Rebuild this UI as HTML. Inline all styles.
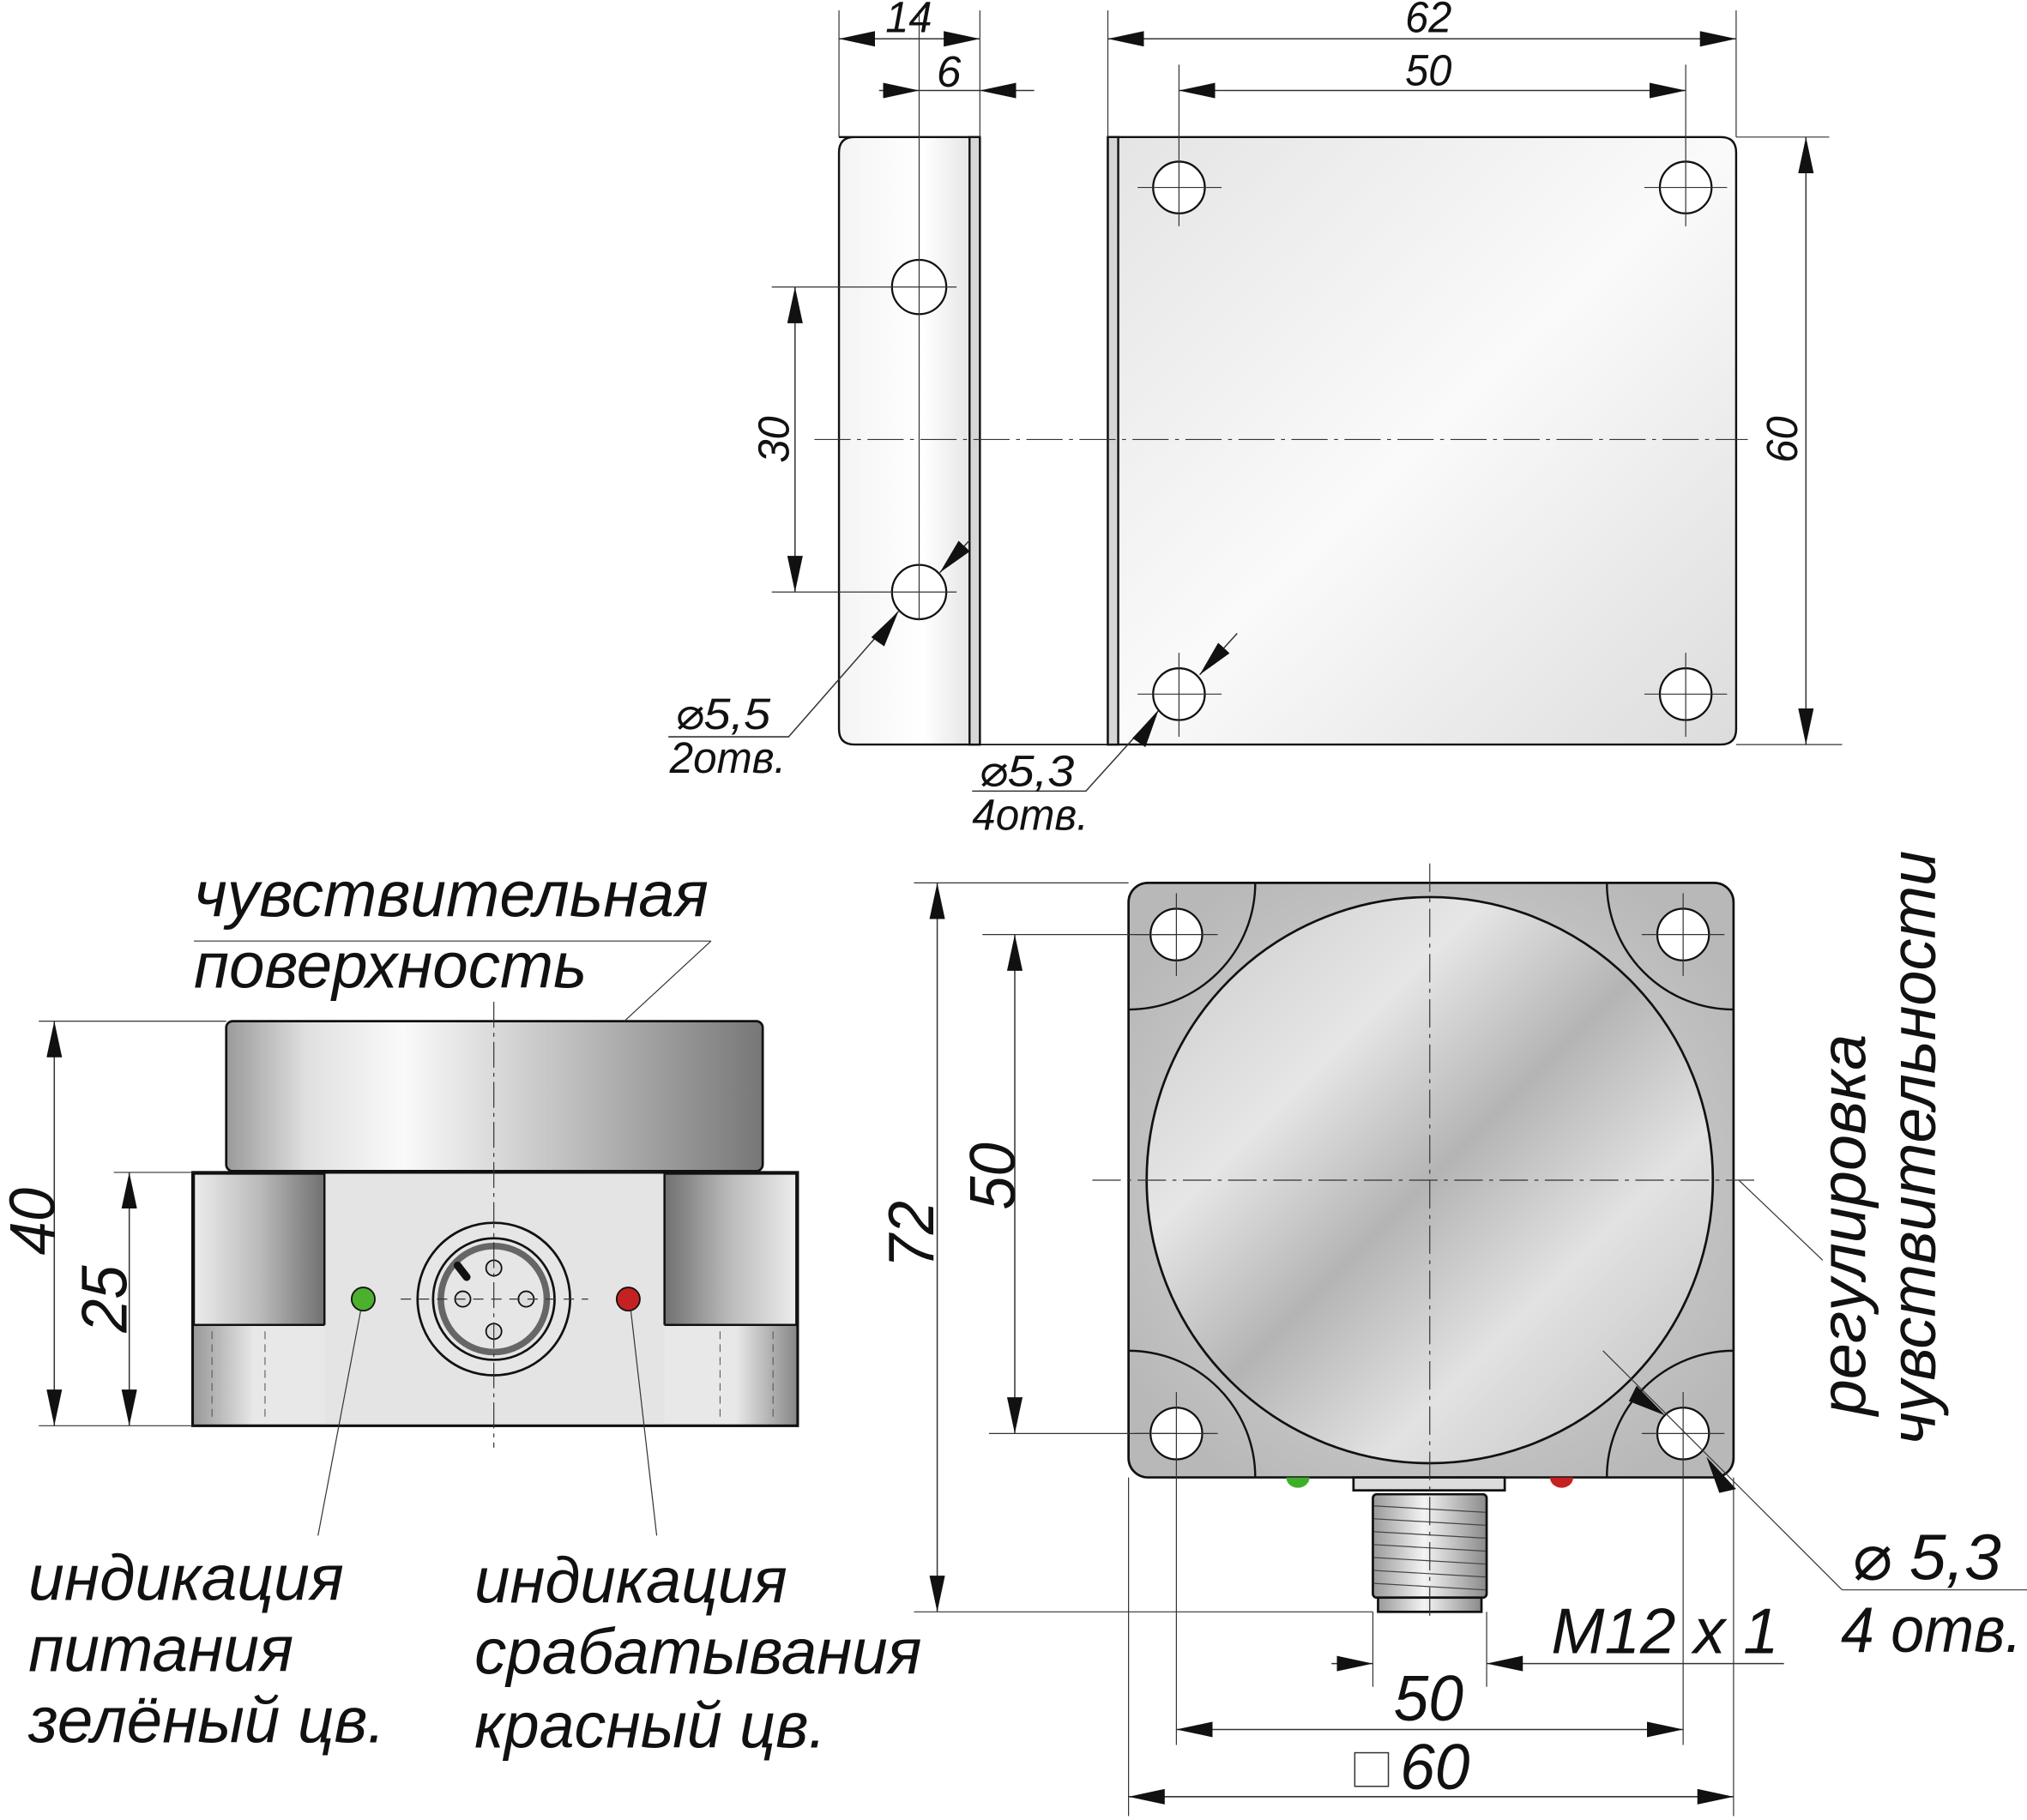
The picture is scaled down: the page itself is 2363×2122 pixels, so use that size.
<!DOCTYPE html>
<html><head><meta charset="utf-8">
<style>html,body{margin:0;padding:0;background:#fff}svg{display:block}
text{font-family:"Liberation Sans","DejaVu Sans",sans-serif;font-style:italic;fill:#111}</style></head>
<body>
<svg width="2363" height="2122" viewBox="0 0 1568 1408" xmlns="http://www.w3.org/2000/svg">
<defs>
<marker id="a" viewBox="0 0 28 12" refX="28" refY="6" markerWidth="28" markerHeight="12" markerUnits="userSpaceOnUse" orient="auto-start-reverse"><path d="M0,0L28,6L0,12z" fill="#111"/></marker>
<linearGradient id="pl" x1="0" y1="0" x2="1" y2="1"><stop offset="0" stop-color="#e4e4e4"/><stop offset=".5" stop-color="#fafafa"/><stop offset="1" stop-color="#dcdcdc"/></linearGradient>
<linearGradient id="br" x1="0" x2="1"><stop offset="0" stop-color="#f4f4f4"/><stop offset=".6" stop-color="#fff"/><stop offset="1" stop-color="#e0e0e0"/></linearGradient>
<linearGradient id="cy" x1="0" x2="1"><stop offset="0" stop-color="#9a9a9a"/><stop offset=".15" stop-color="#e0e0e0"/><stop offset=".33" stop-color="#fafafa"/><stop offset=".65" stop-color="#bdbdbd"/><stop offset="1" stop-color="#777"/></linearGradient>
<linearGradient id="nl" x1="0" x2="1"><stop offset="0" stop-color="#ececec"/><stop offset=".5" stop-color="#bbb"/><stop offset="1" stop-color="#707070"/></linearGradient>
<linearGradient id="nr" x1="0" x2="1"><stop offset="0" stop-color="#707070"/><stop offset=".5" stop-color="#bbb"/><stop offset="1" stop-color="#ececec"/></linearGradient>
<linearGradient id="lb" x1="0" x2="1"><stop offset="0" stop-color="#999"/><stop offset=".1" stop-color="#e8e8e8"/><stop offset=".9" stop-color="#e8e8e8"/><stop offset="1" stop-color="#888"/></linearGradient>
<linearGradient id="th" x1="0" x2="1"><stop offset="0" stop-color="#999"/><stop offset=".45" stop-color="#f4f4f4"/><stop offset="1" stop-color="#8a8a8a"/></linearGradient>
<radialGradient id="dk" cx=".5" cy=".5" r=".6"><stop offset="0" stop-color="#dadada"/><stop offset=".6" stop-color="#c8c8c8"/><stop offset="1" stop-color="#b8b8b8"/></radialGradient>
<linearGradient id="dk2" x1="0" y1="0" x2="1" y2="1"><stop offset="0" stop-color="#c8c8c8"/><stop offset=".3" stop-color="#e6e6e6"/><stop offset=".5" stop-color="#b4b4b4"/><stop offset=".7" stop-color="#e2e2e2"/><stop offset="1" stop-color="#bcbcbc"/></linearGradient>
</defs>

<!-- ===== TOP VIEW ===== -->
<path d="M649,106H758V576H661Q649,576 649,564V118Q649,106 661,106Z" fill="url(#br)" stroke="#111" stroke-width="1.6"/>
<rect x="750" y="106" width="8" height="470" fill="#d6d6d6" stroke="#111" stroke-width="1.6"/>
<line x1="758" y1="576" x2="857" y2="576" stroke="#111" stroke-width="1.2"/>
<path d="M857,106H1331Q1343,106 1343,118V564Q1343,576 1331,576H857Z" fill="url(#pl)" stroke="#111" stroke-width="1.6"/>
<rect x="857" y="106" width="8" height="470" fill="#d6d6d6" stroke="#111" stroke-width="1.6"/>
<g fill="#fff" stroke="#111" stroke-width="1.5">
<circle cx="711" cy="222" r="21"/><circle cx="711" cy="458" r="21"/>
<circle cx="912" cy="145" r="20"/><circle cx="1304" cy="145" r="20"/>
<circle cx="912" cy="537" r="20"/><circle cx="1304" cy="537" r="20"/>
</g>
<g stroke="#333" stroke-width="0.8" fill="none">
<line x1="711" y1="8" x2="711" y2="480"/>
<line x1="597" y1="222" x2="740" y2="222"/><line x1="597" y1="458" x2="740" y2="458"/>
<line x1="912" y1="50" x2="912" y2="175"/><line x1="1304" y1="50" x2="1304" y2="175"/>
<line x1="880" y1="145" x2="945" y2="145"/><line x1="1272" y1="145" x2="1336" y2="145"/>
<line x1="912" y1="505" x2="912" y2="570"/><line x1="1304" y1="505" x2="1304" y2="570"/>
<line x1="880" y1="537" x2="945" y2="537"/><line x1="1272" y1="537" x2="1336" y2="537"/>
<line x1="630" y1="340" x2="1352" y2="340" stroke-dasharray="28 5 3 5"/>
<line x1="649" y1="8" x2="649" y2="106"/><line x1="758" y1="8" x2="758" y2="106"/>
<line x1="857" y1="8" x2="857" y2="106"/><line x1="1343" y1="8" x2="1343" y2="106"/>
<line x1="1343" y1="106" x2="1415" y2="106"/><line x1="1343" y1="576" x2="1425" y2="576"/>
</g>
<g stroke="#333" stroke-width="1" fill="none">
<line x1="649" y1="30" x2="758" y2="30" marker-start="url(#a)" marker-end="url(#a)"/>
<line x1="680" y1="70" x2="711" y2="70" marker-end="url(#a)"/>
<line x1="800" y1="70" x2="758" y2="70" marker-end="url(#a)"/>
<line x1="711" y1="70" x2="758" y2="70"/>
<line x1="857" y1="30" x2="1343" y2="30" marker-start="url(#a)" marker-end="url(#a)"/>
<line x1="912" y1="70" x2="1304" y2="70" marker-start="url(#a)" marker-end="url(#a)"/>
<line x1="1397" y1="106" x2="1397" y2="576" marker-start="url(#a)" marker-end="url(#a)"/>
<line x1="615" y1="222" x2="615" y2="458" marker-start="url(#a)" marker-end="url(#a)"/>
<polyline points="517,570 610,570 695,473"/>
<line x1="727" y1="443" x2="750" y2="418" marker-start="url(#a)"/>
<polyline points="752,612 840,612 896,550"/>
<line x1="928" y1="522" x2="957" y2="490" marker-start="url(#a)"/>
</g>
<path d="M674,493L695,473L684,500z" fill="#111"/>
<path d="M876,571L896,550L886,578z" fill="#111"/>
<g font-size="34">
<text x="703" y="25" text-anchor="middle" textLength="36" lengthAdjust="spacingAndGlyphs">14</text>
<text x="734" y="67" text-anchor="middle">6</text>
<text x="1105" y="25" text-anchor="middle" textLength="36" lengthAdjust="spacingAndGlyphs">62</text>
<text x="1105" y="66" text-anchor="middle" textLength="36" lengthAdjust="spacingAndGlyphs">50</text>
<text transform="translate(1390,340) rotate(-90)" text-anchor="middle" textLength="36" lengthAdjust="spacingAndGlyphs">60</text>
<text transform="translate(610,340) rotate(-90)" text-anchor="middle" textLength="36" lengthAdjust="spacingAndGlyphs">30</text>
<text x="522" y="564" textLength="74" lengthAdjust="spacingAndGlyphs">⌀5,5</text>
<text x="518" y="598" textLength="90" lengthAdjust="spacingAndGlyphs">2отв.</text>
<text x="757" y="608" textLength="74" lengthAdjust="spacingAndGlyphs">⌀5,3</text>
<text x="752" y="642" textLength="90" lengthAdjust="spacingAndGlyphs">4отв.</text>
</g>

<!-- ===== SIDE VIEW ===== -->
<rect x="175" y="790" width="415" height="116" rx="5" fill="url(#cy)" stroke="#111" stroke-width="1.8"/>
<rect x="149" y="907" width="468" height="196" fill="#e6e6e6" stroke="#111" stroke-width="2"/>
<rect x="150" y="1025" width="466" height="77" fill="url(#lb)"/>
<rect x="150" y="908" width="101" height="117" fill="url(#nl)" stroke="#111" stroke-width="1.6"/>
<rect x="514" y="908" width="102" height="117" fill="url(#nr)" stroke="#111" stroke-width="1.6"/>
<rect x="251" y="908" width="263" height="194" fill="#e4e4e4"/>
<rect x="149" y="907" width="468" height="196" fill="none" stroke="#111" stroke-width="2"/>
<line x1="149" y1="1025" x2="251" y2="1025" stroke="#111" stroke-width="1.6"/>
<line x1="514" y1="1025" x2="617" y2="1025" stroke="#111" stroke-width="1.6"/>
<line x1="251" y1="907" x2="251" y2="1025" stroke="#111" stroke-width="1.6"/>
<line x1="514" y1="907" x2="514" y2="1025" stroke="#111" stroke-width="1.6"/>
<g stroke="#555" stroke-width="0.7" stroke-dasharray="6 4"><line x1="164" y1="1030" x2="164" y2="1100"/><line x1="205" y1="1030" x2="205" y2="1100"/><line x1="557" y1="1030" x2="557" y2="1100"/><line x1="598" y1="1030" x2="598" y2="1100"/></g>
<circle cx="382" cy="1005" r="59" fill="#e6e6e6" stroke="#111" stroke-width="1.8"/>
<circle cx="382" cy="1005" r="47" fill="none" stroke="#111" stroke-width="1.8"/>
<circle cx="382" cy="1005" r="41" fill="none" stroke="#666" stroke-width="5"/>
<line x1="354" y1="979" x2="361" y2="988" stroke="#111" stroke-width="6" stroke-linecap="round"/>
<g fill="#ddd" stroke="#111" stroke-width="1.2"><circle cx="382" cy="981" r="6"/><circle cx="382" cy="1030" r="6"/><circle cx="358" cy="1005" r="6"/><circle cx="407" cy="1005" r="6"/></g>
<circle cx="281" cy="1005" r="9" fill="#4caf2e" stroke="#111" stroke-width="1.2"/>
<circle cx="486" cy="1005" r="9" fill="#c42222" stroke="#111" stroke-width="1.2"/>
<g stroke="#333" stroke-width="0.8" fill="none">
<line x1="382" y1="775" x2="382" y2="1120" stroke-dasharray="20 4 3 4"/>
<line x1="310" y1="1005" x2="455" y2="1005" stroke-dasharray="8 6"/>
<line x1="30" y1="790" x2="175" y2="790"/><line x1="30" y1="1103" x2="149" y2="1103"/>
<line x1="88" y1="907" x2="149" y2="907"/>
<line x1="150" y1="728" x2="550" y2="728"/><line x1="550" y1="728" x2="483" y2="790"/>
<line x1="279" y1="1014" x2="246" y2="1188"/><line x1="488" y1="1014" x2="508" y2="1188"/>
</g>
<g stroke="#333" stroke-width="1" fill="none">
<line x1="42" y1="790" x2="42" y2="1103" marker-start="url(#a)" marker-end="url(#a)"/>
<line x1="100" y1="907" x2="100" y2="1103" marker-start="url(#a)" marker-end="url(#a)"/>
</g>
<g font-size="50">
<text transform="translate(42,945) rotate(-90)" text-anchor="middle" textLength="52" lengthAdjust="spacingAndGlyphs">40</text>
<text transform="translate(98,1005) rotate(-90)" text-anchor="middle" textLength="52" lengthAdjust="spacingAndGlyphs">25</text>
<text x="150" y="709" textLength="398" lengthAdjust="spacingAndGlyphs">чувствительная</text>
<text x="150" y="764" textLength="304" lengthAdjust="spacingAndGlyphs">поверхность</text>
<text x="22" y="1238" textLength="244" lengthAdjust="spacingAndGlyphs">индикация</text>
<text x="22" y="1293" textLength="205" lengthAdjust="spacingAndGlyphs">питания</text>
<text x="22" y="1348" textLength="276" lengthAdjust="spacingAndGlyphs">зелёный цв.</text>
<text x="367" y="1240" textLength="242" lengthAdjust="spacingAndGlyphs">индикация</text>
<text x="367" y="1295" textLength="346" lengthAdjust="spacingAndGlyphs">срабатывания</text>
<text x="367" y="1352" textLength="272" lengthAdjust="spacingAndGlyphs">красный цв.</text>
</g>

<!-- ===== FRONT VIEW ===== -->
<rect x="873" y="683" width="468" height="460" rx="15" fill="url(#dk)" stroke="#111" stroke-width="1.8"/>
<g fill="none" stroke="#111" stroke-width="1.6">
<path d="M873,781A98,98 0 0 0 971,683"/>
<path d="M1243,683A98,98 0 0 0 1341,781"/>
<path d="M873,1045A98,98 0 0 1 971,1143"/>
<path d="M1243,1143A98,98 0 0 1 1341,1045"/>
</g>
<circle cx="1106" cy="913" r="219" fill="url(#dk2)" stroke="#111" stroke-width="1.8"/>
<g fill="#fff" stroke="#111" stroke-width="1.5">
<circle cx="910" cy="723" r="20"/><circle cx="1302" cy="723" r="20"/>
<circle cx="910" cy="1109" r="20"/><circle cx="1302" cy="1109" r="20"/>
</g>
<path d="M995,1143a9,8 0 0 0 18,0z" fill="#3fae2a"/>
<path d="M1199,1143a9,8 0 0 0 18,0z" fill="#c42222"/>
<rect x="1047" y="1143" width="117" height="10" fill="#ddd" stroke="#111" stroke-width="1.8"/>
<rect x="1062" y="1156" width="88" height="80" rx="3" fill="url(#th)" stroke="#111" stroke-width="1.8"/>
<g stroke="#444" stroke-width="0.8"><line x1="1063" y1="1165" x2="1149" y2="1170"/><line x1="1063" y1="1175" x2="1149" y2="1180"/><line x1="1063" y1="1185" x2="1149" y2="1190"/><line x1="1063" y1="1195" x2="1149" y2="1200"/><line x1="1063" y1="1205" x2="1149" y2="1210"/><line x1="1063" y1="1215" x2="1149" y2="1220"/><line x1="1063" y1="1225" x2="1149" y2="1230"/></g>
<rect x="1066" y="1236" width="80" height="11" fill="url(#th)" stroke="#111" stroke-width="1.8"/>
<g stroke="#333" stroke-width="0.8" fill="none">
<line x1="1106" y1="668" x2="1106" y2="1250" stroke-dasharray="22 5 3 5"/>
<line x1="845" y1="913" x2="1362" y2="913" stroke-dasharray="22 5 3 5"/>
<line x1="878" y1="723" x2="942" y2="723"/><line x1="1270" y1="723" x2="1334" y2="723"/>
<line x1="910" y1="691" x2="910" y2="755"/><line x1="1302" y1="691" x2="1302" y2="755"/>
<line x1="878" y1="1109" x2="942" y2="1109"/><line x1="1270" y1="1109" x2="1334" y2="1109"/>
<line x1="910" y1="1077" x2="910" y2="1350"/><line x1="1302" y1="1077" x2="1302" y2="1350"/>
<line x1="873" y1="1143" x2="873" y2="1405"/><line x1="1341" y1="1143" x2="1341" y2="1405"/>
<line x1="1062" y1="1247" x2="1062" y2="1305"/><line x1="1150" y1="1247" x2="1150" y2="1305"/>
<line x1="707" y1="683" x2="873" y2="683"/><line x1="707" y1="1247" x2="1062" y2="1247"/>
<line x1="760" y1="723" x2="910" y2="723"/><line x1="765" y1="1109" x2="910" y2="1109"/>
<line x1="1345" y1="913" x2="1410" y2="975"/>
<line x1="1240" y1="1045" x2="1425" y2="1230"/><line x1="1425" y1="1230" x2="1568" y2="1230"/>
</g>
<g stroke="#333" stroke-width="1" fill="none">
<line x1="725" y1="683" x2="725" y2="1247" marker-start="url(#a)" marker-end="url(#a)"/>
<line x1="785" y1="723" x2="785" y2="1109" marker-start="url(#a)" marker-end="url(#a)"/>
<line x1="1030" y1="1287" x2="1062" y2="1287" marker-end="url(#a)"/>
<line x1="1380" y1="1287" x2="1150" y2="1287" marker-end="url(#a)"/>
<line x1="910" y1="1338" x2="1302" y2="1338" marker-start="url(#a)" marker-end="url(#a)"/>
<line x1="873" y1="1390" x2="1341" y2="1390" marker-start="url(#a)" marker-end="url(#a)"/>
</g>
<path d="M1266,1072L1288,1095L1260,1084z" fill="#111"/>
<path d="M1343,1152L1320,1127L1330,1155z" fill="#111"/>
<g font-size="50">
<text transform="translate(722,955) rotate(-90)" text-anchor="middle" textLength="52" lengthAdjust="spacingAndGlyphs">72</text>
<text transform="translate(785,910) rotate(-90)" text-anchor="middle" textLength="52" lengthAdjust="spacingAndGlyphs">50</text>
<text x="1200" y="1279" textLength="176" lengthAdjust="spacingAndGlyphs">M12 x 1</text>
<text x="1105" y="1331" text-anchor="middle" textLength="54" lengthAdjust="spacingAndGlyphs">50</text>
<text x="1110" y="1384" text-anchor="middle" textLength="54" lengthAdjust="spacingAndGlyphs">60</text>
<text x="1432" y="1222" textLength="116" lengthAdjust="spacingAndGlyphs">⌀ 5,3</text>
<text x="1424" y="1278" textLength="140" lengthAdjust="spacingAndGlyphs">4 отв.</text>
<text transform="translate(1443,1095) rotate(-90)" textLength="295" lengthAdjust="spacingAndGlyphs">регулировка</text>
<text transform="translate(1497,1118) rotate(-90)" textLength="460" lengthAdjust="spacingAndGlyphs">чувствительности</text>
</g>
<rect x="1048" y="1356" width="26" height="26" fill="none" stroke="#333" stroke-width="1"/>
</svg>
</body></html>
